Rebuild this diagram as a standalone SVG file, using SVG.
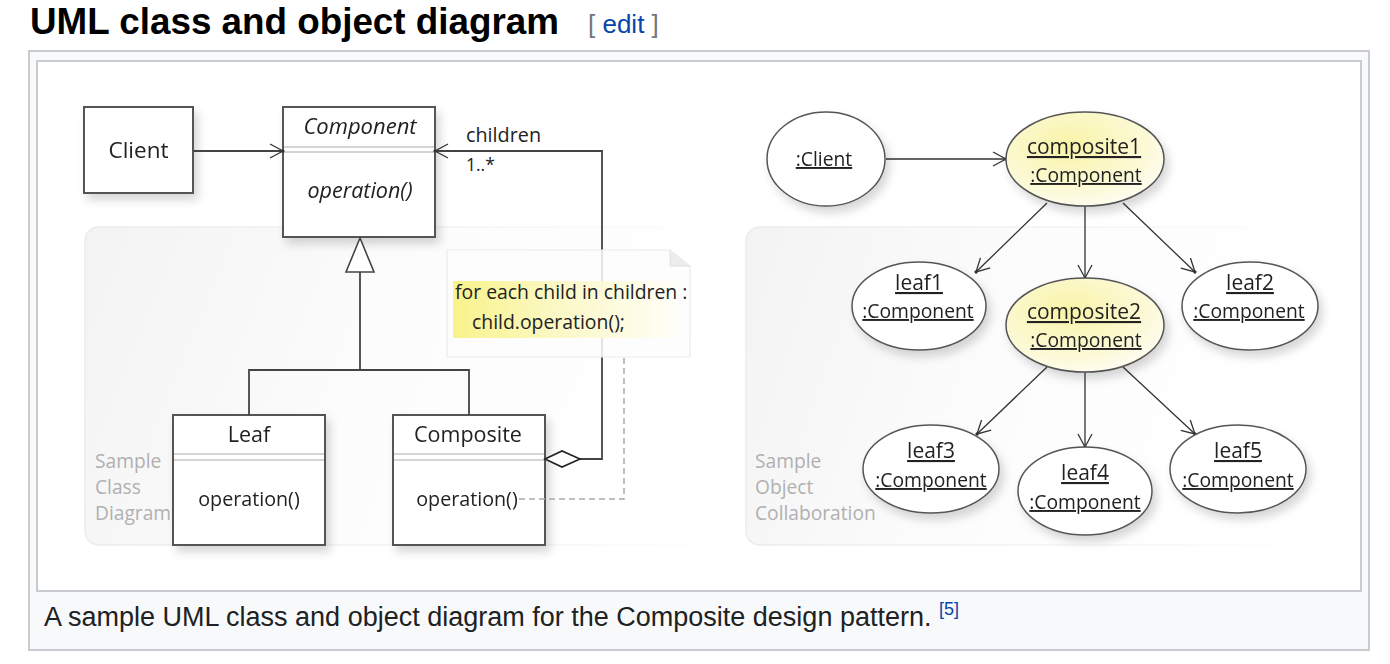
<svg xmlns="http://www.w3.org/2000/svg" width="1390" height="664" viewBox="0 0 1390 664">
  <style>
    .title { font-family: "Liberation Sans", Arial, sans-serif; font-weight: bold; font-size: 36.8px; fill: #000; }
    .edit { font-family: "Liberation Sans", Arial, sans-serif; font-size: 26px; }
    .caption { font-family: "Liberation Sans", Arial, sans-serif; font-size: 27px; fill: #202122; }
    .uml { font-family: "Open Sans", "DejaVu Sans", sans-serif; fill: #222; }
    .box { fill: #fff; stroke: #555; stroke-width: 2; }
    .sep { stroke: #aaa; stroke-width: 1; }
    .edge { fill: none; stroke: #444; stroke-width: 1.8; }
    .thin { fill: none; stroke: #333; stroke-width: 1.3; }
    .panel-label { font-family: "Open Sans", "DejaVu Sans", sans-serif; font-size: 19.2px; fill: #b0b0b0; }
    .oname { font-size: 21px; text-decoration: underline; }
    .otype { font-size: 19.3px; text-decoration: underline; }
  </style>
  <defs>
    <filter id="shadow" x="-20%" y="-20%" width="150%" height="150%">
      <feDropShadow dx="4" dy="6" stdDeviation="5" flood-color="#000" flood-opacity="0.16"/>
    </filter>
    <linearGradient id="yellowBox" x1="0" y1="0" x2="1" y2="1">
      <stop offset="0" stop-color="#f8f4a0"/>
      <stop offset="0.55" stop-color="#fdfbe0"/>
      <stop offset="1" stop-color="#ffffff"/>
    </linearGradient>
    <radialGradient id="yellowOval" cx="0.4" cy="0.35" r="0.8">
      <stop offset="0" stop-color="#f9f4a8"/>
      <stop offset="0.6" stop-color="#fcf9d6"/>
      <stop offset="1" stop-color="#ffffff"/>
    </radialGradient>
    <linearGradient id="panel" x1="0" y1="0" x2="1" y2="0.2">
      <stop offset="0" stop-color="#f3f3f3"/>
      <stop offset="0.5" stop-color="#fcfcfc"/>
      <stop offset="1" stop-color="#ffffff"/>
    </linearGradient>
    <linearGradient id="panelEdge" x1="0" y1="0" x2="1" y2="0">
      <stop offset="0" stop-color="#ebebeb"/>
      <stop offset="0.7" stop-color="#f6f6f6"/>
      <stop offset="1" stop-color="#ffffff"/>
    </linearGradient>
    <linearGradient id="hilite" x1="0" y1="0" x2="1" y2="0">
      <stop offset="0" stop-color="#f8f27e"/>
      <stop offset="0.5" stop-color="#fbf8c4"/>
      <stop offset="1" stop-color="#fffef6"/>
    </linearGradient>
    <marker id="open" viewBox="0 0 16 16" refX="14" refY="8" markerWidth="16" markerHeight="16" markerUnits="userSpaceOnUse" orient="auto">
      <path d="M1,1 L14,8 L1,15" fill="none" stroke="#333" stroke-width="1.3"/>
      <circle cx="14" cy="8" r="1.6" fill="#333"/>
    </marker>
  </defs>

  <!-- page background and heading -->
  <rect width="1390" height="664" fill="#fff"/>
  <text class="title" x="30" y="34">UML class and object diagram</text>
  <text class="edit" x="588" y="33"><tspan fill="#72777d">[ </tspan><tspan fill="#0645ad">edit</tspan><tspan fill="#72777d"> ]</tspan></text>

  <!-- figure frame -->
  <rect x="29" y="51" width="1340" height="599" fill="#f8f9fa" stroke="#c8ccd1" stroke-width="2"/>
  <rect x="37" y="61" width="1324" height="530" fill="#fff" stroke="#c8ccd1" stroke-width="2"/>
  <text class="caption" x="44" y="626">A sample UML class and object diagram for the Composite design pattern. <tspan fill="#0645ad" font-size="18" dy="-11">[5]</tspan></text>

  <!-- background panels -->
  <rect x="85" y="227" width="650" height="318" rx="14" fill="url(#panel)" stroke="url(#panelEdge)" stroke-width="1.5"/>
  <rect x="746" y="227" width="560" height="318" rx="14" fill="url(#panel)" stroke="url(#panelEdge)" stroke-width="1.5"/>
  <g class="panel-label">
    <text x="95" y="468">Sample</text>
    <text x="95" y="494">Class</text>
    <text x="95" y="520">Diagram</text>
    <text x="755" y="468">Sample</text>
    <text x="755" y="494">Object</text>
    <text x="755" y="520">Collaboration</text>
  </g>

  <!-- class diagram nodes -->
  <g id="client" filter="url(#shadow)">
    <rect class="box" x="84" y="107" width="109" height="86"/>
    <text class="uml" x="138.5" y="158" font-size="22.5" text-anchor="middle">Client</text>
  </g>
  <g id="component" filter="url(#shadow)">
    <rect class="box" x="283" y="107" width="152" height="130"/>
    <line class="sep" x1="284" y1="147" x2="434" y2="147"/>
    <line class="sep" x1="284" y1="152" x2="434" y2="152"/>
    <text class="uml" x="360" y="134" font-size="22" font-style="italic" text-anchor="middle">Component</text>
    <text class="uml" x="360" y="198" font-size="21.5" font-style="italic" text-anchor="middle">operation()</text>
  </g>
  <g id="leaf" filter="url(#shadow)">
    <rect class="box" x="173" y="415" width="152" height="130"/>
    <line class="sep" x1="174" y1="454" x2="324" y2="454"/>
    <line class="sep" x1="174" y1="460" x2="324" y2="460"/>
    <text class="uml" x="249" y="442" font-size="21.5" text-anchor="middle">Leaf</text>
    <text class="uml" x="249" y="506" font-size="19.7" text-anchor="middle">operation()</text>
  </g>
  <g id="composite" filter="url(#shadow)">
    <rect class="box" x="393" y="415" width="152" height="130" fill="url(#yellowBox)"/>
    <line class="sep" x1="394" y1="454" x2="544" y2="454"/>
    <line class="sep" x1="394" y1="460" x2="544" y2="460"/>
    <text class="uml" x="468" y="442" font-size="21.5" text-anchor="middle">Composite</text>
    <text class="uml" x="467" y="506" font-size="19.7" text-anchor="middle">operation()</text>
  </g>

  <!-- class diagram connectors -->
  <g id="class-connectors">
    <line class="edge" x1="193" y1="151" x2="283" y2="151" marker-end="url(#open)"/>
    <polyline class="edge" points="360,272 360,370"/>
    <polyline class="edge" points="249,415 249,370 469,370 469,415"/>
    <polygon points="360,238 374,272 346,272" fill="#fff" stroke="#444" stroke-width="1.6"/>
    <polyline class="edge" points="580,459 602,459 602,151 435,151" marker-end="url(#open)"/>
    <polygon points="545,459 562,451 580,459 562,467" fill="#fff" stroke="#222" stroke-width="1.6"/>
    <polyline points="519,499 624,499 624,357" fill="none" stroke="#aaa" stroke-width="1.5" stroke-dasharray="6,4"/>
    <text class="uml" x="466" y="142" font-size="19.8">children</text>
    <text class="uml" x="466" y="171" font-size="17.5">1..*</text>
  </g>

  <!-- note attached to Composite.operation() -->
  <g id="note">
    <path d="M447,250 L670,250 L690,266 L690,357 L447,357 Z" fill="#fdfdfd" fill-opacity="0.85" stroke="#ececec" stroke-width="1.2"/>
    <path d="M670,250 L670,266 L690,266" fill="#ececec" stroke="#e2e2e2" stroke-width="1"/>
    <rect x="453" y="281" width="222" height="57" fill="url(#hilite)" opacity="0.9"/>
    <text class="uml" x="455" y="299" font-size="19.4">for each child in children :</text>
    <text class="uml" x="472" y="329" font-size="19.4">child.operation();</text>
  </g>

  <!-- object diagram connectors -->
  <g id="object-connectors">
    <line class="thin" x1="886" y1="159" x2="1006" y2="159" marker-end="url(#open)"/>
    <line class="thin" x1="1047" y1="203" x2="976" y2="272" marker-end="url(#open)"/>
    <line class="thin" x1="1085" y1="206" x2="1085" y2="278" marker-end="url(#open)"/>
    <line class="thin" x1="1123" y1="203" x2="1195" y2="272" marker-end="url(#open)"/>
    <line class="thin" x1="1047" y1="367" x2="977" y2="434" marker-end="url(#open)"/>
    <line class="thin" x1="1085" y1="372" x2="1085" y2="447" marker-end="url(#open)"/>
    <line class="thin" x1="1123" y1="367" x2="1195" y2="434" marker-end="url(#open)"/>
  </g>

  <!-- object diagram nodes -->
  <g id="obj-client" filter="url(#shadow)">
    <ellipse cx="826" cy="159" rx="59" ry="47" fill="#fff" stroke="#555" stroke-width="1.5"/>
    <text class="uml otype" x="824" y="166" font-size="21" text-anchor="middle">:Client</text>
  </g>
  <g id="obj-composite1" filter="url(#shadow)">
    <ellipse cx="1085" cy="159" rx="79" ry="47" fill="url(#yellowOval)" stroke="#555" stroke-width="1.5"/>
    <text class="uml oname" x="1084" y="154" text-anchor="middle">composite1</text>
    <text class="uml otype" x="1086" y="182" text-anchor="middle">:Component</text>
  </g>
  <g id="obj-leaf1" filter="url(#shadow)">
    <ellipse cx="919" cy="306" rx="67" ry="44" fill="#fff" stroke="#555" stroke-width="1.5"/>
    <text class="uml oname" x="919" y="290" text-anchor="middle">leaf1</text>
    <text class="uml otype" x="918" y="318" text-anchor="middle">:Component</text>
  </g>
  <g id="obj-composite2" filter="url(#shadow)">
    <ellipse cx="1085" cy="325" rx="79" ry="47" fill="url(#yellowOval)" stroke="#555" stroke-width="1.5"/>
    <text class="uml oname" x="1084" y="319" text-anchor="middle">composite2</text>
    <text class="uml otype" x="1086" y="347" text-anchor="middle">:Component</text>
  </g>
  <g id="obj-leaf2" filter="url(#shadow)">
    <ellipse cx="1250" cy="306" rx="68" ry="44" fill="#fff" stroke="#555" stroke-width="1.5"/>
    <text class="uml oname" x="1250" y="290" text-anchor="middle">leaf2</text>
    <text class="uml otype" x="1249" y="318" text-anchor="middle">:Component</text>
  </g>
  <g id="obj-leaf3" filter="url(#shadow)">
    <ellipse cx="931" cy="469" rx="68" ry="44" fill="#fff" stroke="#555" stroke-width="1.5"/>
    <text class="uml oname" x="931" y="458" text-anchor="middle">leaf3</text>
    <text class="uml otype" x="931" y="487" text-anchor="middle">:Component</text>
  </g>
  <g id="obj-leaf4" filter="url(#shadow)">
    <ellipse cx="1085" cy="491" rx="67" ry="44" fill="#fff" stroke="#555" stroke-width="1.5"/>
    <text class="uml oname" x="1085" y="480" text-anchor="middle">leaf4</text>
    <text class="uml otype" x="1085" y="509" text-anchor="middle">:Component</text>
  </g>
  <g id="obj-leaf5" filter="url(#shadow)">
    <ellipse cx="1238" cy="469" rx="68" ry="44" fill="#fff" stroke="#555" stroke-width="1.5"/>
    <text class="uml oname" x="1238" y="458" text-anchor="middle">leaf5</text>
    <text class="uml otype" x="1238" y="487" text-anchor="middle">:Component</text>
  </g>
</svg>
